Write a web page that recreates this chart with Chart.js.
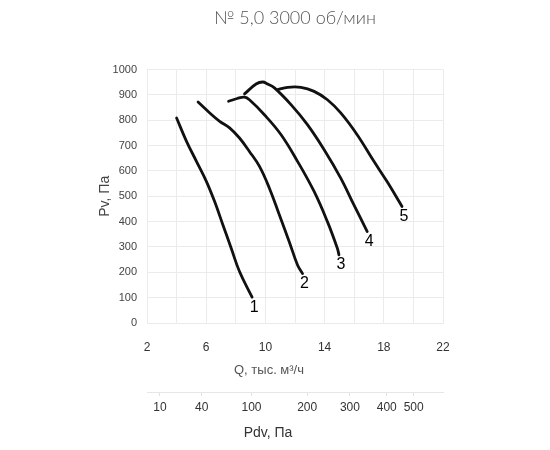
<!DOCTYPE html>
<html><head><meta charset="utf-8">
<script src="https://cdn.jsdelivr.net/npm/chart.js@4/dist/chart.umd.min.js"></script>
<style>html,body{margin:0;padding:0;background:#fff}#wrap{width:550px;height:450px}</style>
</head><body><div id="wrap"><canvas id="c" width="550" height="450"></canvas></div>
<script>
const chartTitle = '№ 5,0 3000 об/мин';
const xTitle = 'Q, тыс. м³/ч';
const yTitle = 'Pv, Па';
const x2Title = 'Pdv, Па';
const curveNames = ['1', '2', '3', '4', '5'];

const q1 = [4.00, 4.67, 5.34, 6.01, 6.57, 7.13, 7.69, 8.25, 9.10];
const p1 = [809, 717, 638, 559, 479, 387, 295, 203, 102];
const q2 = [5.45, 6.24, 6.91, 7.58, 8.25, 8.92, 9.60, 10.27, 10.94, 11.61, 12.17, 12.51];
const p2 = [872, 829, 796, 770, 730, 677, 618, 532, 427, 321, 229, 195];
const q3 = [7.51, 8.10, 8.59, 8.92, 9.93, 11.06, 12.17, 13.29, 14.19, 14.86, 14.97];
const p3 = [875, 886, 891, 881, 822, 743, 638, 519, 400, 295, 269];
const q4 = [8.59, 9.37, 9.82, 10.15, 10.61, 11.73, 12.84, 13.97, 15.09, 15.98, 16.88];
const p4 = [904, 943, 951, 943, 928, 862, 783, 684, 572, 466, 361];
const q5 = [10.83, 11.50, 12.40, 13.29, 14.19, 15.09, 16.20, 17.33, 18.22, 19.23];
const p5 = [921, 930, 930, 914, 881, 829, 743, 638, 558, 460];

const pdvTickLabels = ['10', '40', '100', '200', '300', '400', '500'];
const pdvTickQ = [2.87, 5.70, 9.06, 12.82, 15.71, 18.20, 20.02];

const curvesQ = [q1, q2, q3, q4, q5];
const curvesP = [p1, p2, p3, p4, p5];

const FONT = '"Liberation Sans", Arial, sans-serif';
const GRID = '#ebebeb';

const datasets = curvesQ.map((qs, i) => ({
  label: curveNames[i],
  data: qs.map((q, j) => ({ x: q, y: curvesP[i][j] })),
  showLine: true,
  borderColor: '#111',
  backgroundColor: '#111',
  borderWidth: 2.8,
  pointRadius: 0,
  pointHoverRadius: 0,
  tension: 0.4,
  borderJoinStyle: 'round',
  borderCapStyle: 'round',
  fill: false
}));

const curveLabelPlugin = {
  id: 'curveLabels',
  afterDatasetsDraw(chart) {
    const ctx = chart.ctx;
    ctx.save();
    ctx.font = '16px ' + FONT;
    ctx.fillStyle = '#000';
    ctx.textAlign = 'center';
    ctx.textBaseline = 'middle';
    chart.data.datasets.forEach((ds, i) => {
      const meta = chart.getDatasetMeta(i);
      const last = meta.data[meta.data.length - 1];
      ctx.fillText(curveNames[i], last.x + 2, last.y + 10);
    });
    ctx.restore();
  }
};

// bottom axis titles, drawn slightly left of the plot centre as in the reference
const axisTitlePlugin = {
  id: 'axisTitles',
  afterDraw(chart) {
    const ctx = chart.ctx;
    const a = chart.chartArea;
    const cx = (a.left + a.right) / 2 - 26;
    ctx.save();
    ctx.textAlign = 'center';
    ctx.textBaseline = 'middle';
    ctx.font = '13px ' + FONT;
    ctx.fillStyle = '#555';
    ctx.fillText(xTitle, cx, chart.scales.x.bottom - 22);
    ctx.font = '14px ' + FONT;
    ctx.fillStyle = '#333';
    ctx.fillText(x2Title, cx - 1, chart.scales.x2.bottom - 17);
    ctx.restore();
  }
};

new Chart(document.getElementById('c'), {
  type: 'scatter',
  data: { datasets },
  plugins: [curveLabelPlugin, axisTitlePlugin],
  options: {
    responsive: false,
    animation: false,
    layout: { padding: { left: 0, right: 107, top: 0, bottom: 0 } },
    plugins: {
      legend: { display: false },
      tooltip: { enabled: false },
      title: {
        display: true,
        text: chartTitle,
        color: '#555',
        fullSize: false,
        font: { family: 'Lato, "Open Sans", sans-serif', size: 18, weight: '300' },
        padding: { top: 7, bottom: 41 }
      }
    },
    scales: {
      x: {
        type: 'linear', position: 'bottom', min: 2, max: 22,
        ticks: {
          stepSize: 2, autoSkip: false, maxRotation: 0, padding: 17, color: '#333',
          font: { family: FONT, size: 12 },
          callback: v => ((v - 2) % 4 === 0 ? String(v) : '')
        },
        grid: { color: GRID, drawTicks: false },
        border: { color: GRID },
        title: { display: false },
        afterFit: s => { s.height = 69; }
      },
      x2: {
        type: 'linear', position: 'bottom', min: 2, max: 22,
        afterBuildTicks: s => { s.ticks = pdvTickQ.map(v => ({ value: v })); },
        ticks: {
          autoSkip: false, maxRotation: 0, padding: 4, color: '#333',
          font: { family: FONT, size: 12 },
          callback: (v, i) => pdvTickLabels[i]
        },
        grid: { drawOnChartArea: false, tickLength: 4, color: '#e0e0e0' },
        border: { color: '#e6e6e6' },
        title: { display: false },
        afterFit: s => { s.height = 58; }
      },
      y: {
        type: 'linear', min: 0, max: 1000,
        ticks: { stepSize: 100, padding: 10, color: '#444', font: { family: FONT, size: 11 }, callback: v => String(v) },
        grid: { color: GRID, drawTicks: false },
        border: { color: GRID },
        title: { display: true, text: yTitle, color: '#444', font: { family: FONT, size: 14 }, padding: { top: 97, bottom: 0 } },
        afterFit: s => { s.width = 147; }
      }
    }
  }
});
</script>
</body></html>
